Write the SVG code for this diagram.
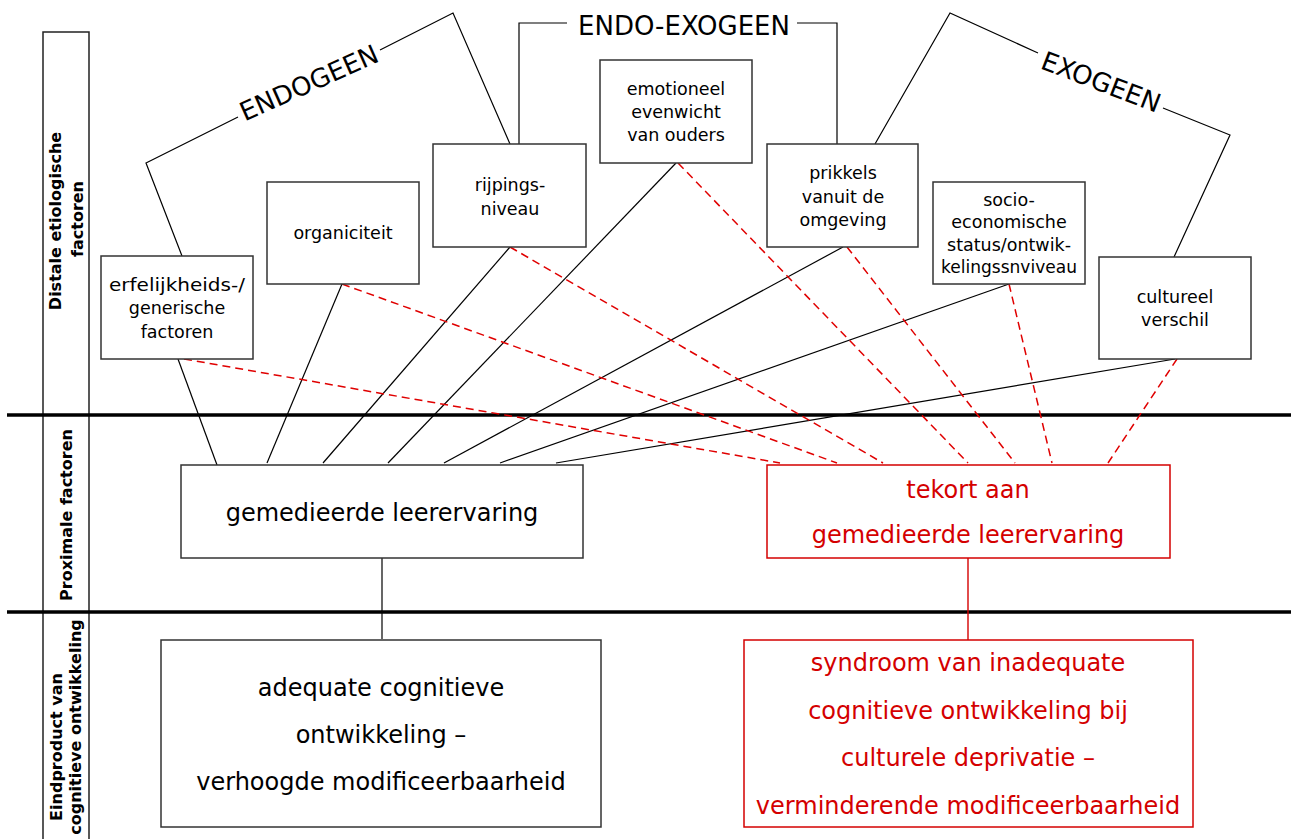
<svg xmlns="http://www.w3.org/2000/svg" width="1291" height="839" viewBox="0 0 1291 839">
<style>
.box{fill:#fff;stroke:#333;stroke-width:1.5}
.rbox{fill:#fff;stroke:#d40000;stroke-width:1.5}
.t{font-family:"DejaVu Sans","Liberation Sans",sans-serif;font-size:17.5px;text-anchor:middle;fill:#000}
.big{font-size:24px}
.hd{font-size:26px}
.red{fill:#d40000}
.side{font-family:"DejaVu Sans","Liberation Sans",sans-serif;font-size:16px;font-weight:bold;text-anchor:middle;fill:#000}
.ln{stroke:#000;stroke-width:1.2;fill:none}
.rln{stroke:#d40000;stroke-width:1.4;fill:none}
.dash{stroke:#e00000;stroke-width:1.5;stroke-dasharray:8 5;fill:none}
.thick{stroke:#000;stroke-width:3.5}
.frame{stroke:#222;stroke-width:1.5;fill:none}
</style>
<rect width="1291" height="839" fill="#fff"/>

<g id="frame">
  <polyline class="frame" points="43,839 43,32 89,32 89,839"/>
  <line class="thick" x1="7" y1="415" x2="1291" y2="415"/>
  <line class="thick" x1="7" y1="612" x2="1291" y2="612"/>
  <text class="side" transform="translate(61,221) rotate(-90)">Distale etiologische</text>
  <text class="side" transform="translate(83,219) rotate(-90)">factoren</text>
  <text class="side" transform="translate(72,515) rotate(-90)">Proximale factoren</text>
  <text class="side" transform="translate(62,747) rotate(-90)">Eindproduct van</text>
  <text class="side" transform="translate(81,727) rotate(-90)">cognitieve ontwikkeling</text>
</g>

<g id="brackets">
  <polyline class="ln" points="182,256 146,163 238,117"/>
  <polyline class="ln" points="380,50 453,13 510,144"/>
  <text class="t hd" transform="translate(309,83) rotate(-24)" y="9">ENDOGEEN</text>
  <polyline class="ln" points="519,144 519,23 567,23"/>
  <polyline class="ln" points="797,23 837,23 837,144"/>
  <text class="t hd" x="684" y="35">ENDO-EXOGEEN</text>
  <polyline class="ln" points="875,144 950,13 1038,53"/>
  <polyline class="ln" points="1163,108 1230,135 1174,257"/>
  <text class="t hd" transform="translate(1101,82) rotate(21)" y="9">EXOGEEN</text>
</g>

<g id="connectors">
  <line class="ln" x1="178" y1="359" x2="217" y2="465"/>
  <line class="ln" x1="342" y1="284" x2="267" y2="463"/>
  <line class="ln" x1="510" y1="247" x2="323" y2="463"/>
  <line class="ln" x1="676" y1="163" x2="388" y2="463"/>
  <line class="ln" x1="843" y1="247" x2="444" y2="463"/>
  <line class="ln" x1="1009" y1="284" x2="500" y2="463"/>
  <line class="ln" x1="1175" y1="359" x2="556" y2="463"/>
  <line class="dash" x1="184" y1="359" x2="780" y2="463"/>
  <line class="dash" x1="342" y1="284" x2="837" y2="463"/>
  <line class="dash" x1="510" y1="247" x2="883" y2="463"/>
  <line class="dash" x1="678" y1="163" x2="968" y2="463"/>
  <line class="dash" x1="847" y1="247" x2="1015" y2="463"/>
  <line class="dash" x1="1009" y1="284" x2="1052" y2="463"/>
  <line class="dash" x1="1177" y1="359" x2="1108" y2="463"/>
  <line class="ln" x1="382" y1="558" x2="382" y2="639"/>
  <line class="rln" x1="968" y1="558" x2="968" y2="640"/>
</g>

<g id="erfelijkheid">
  <rect class="box" x="101" y="256" width="152" height="103"/>
  <text class="t" x="177" y="291" textLength="136" lengthAdjust="spacingAndGlyphs">erfelijkheids-/</text>
  <text class="t" x="177" y="314">generische</text>
  <text class="t" x="177" y="338">factoren</text>
</g>
<g id="organiciteit">
  <rect class="box" x="267" y="182" width="152" height="102"/>
  <text class="t" x="343" y="239">organiciteit</text>
</g>
<g id="rijpingsniveau">
  <rect class="box" x="433" y="144" width="153" height="103"/>
  <text class="t" x="510" y="191">rijpings-</text>
  <text class="t" x="510" y="215">niveau</text>
</g>
<g id="emotioneel">
  <rect class="box" x="600" y="60" width="152" height="103"/>
  <text class="t" x="676" y="95">emotioneel</text>
  <text class="t" x="676" y="118">evenwicht</text>
  <text class="t" x="676" y="141">van ouders</text>
</g>
<g id="prikkels">
  <rect class="box" x="767" y="144" width="151" height="103"/>
  <text class="t" x="843" y="179">prikkels</text>
  <text class="t" x="843" y="203">vanuit de</text>
  <text class="t" x="843" y="226">omgeving</text>
</g>
<g id="socio">
  <rect class="box" x="933" y="182" width="152" height="102"/>
  <text class="t" x="1009" y="206">socio-</text>
  <text class="t" x="1009" y="228">economische</text>
  <text class="t" x="1009" y="251">status/ontwik-</text>
  <text class="t" x="1009" y="273" textLength="136" lengthAdjust="spacingAndGlyphs">kelingssnviveau</text>
</g>
<g id="cultureel">
  <rect class="box" x="1099" y="257" width="152" height="102"/>
  <text class="t" x="1175" y="303">cultureel</text>
  <text class="t" x="1175" y="326">verschil</text>
</g>

<g id="gemedieerd">
  <rect class="box" x="181" y="465" width="402" height="93"/>
  <text class="t big" x="382" y="521">gemedieerde leerervaring</text>
</g>
<g id="tekort">
  <rect class="rbox" x="767" y="465" width="403" height="93"/>
  <text class="t big red" x="968" y="498">tekort aan</text>
  <text class="t big red" x="968" y="543">gemedieerde leerervaring</text>
</g>
<g id="adequaat">
  <rect class="box" x="161" y="640" width="440" height="187"/>
  <text class="t big" x="381" y="696">adequate cognitieve</text>
  <text class="t big" x="381" y="743">ontwikkeling –</text>
  <text class="t big" x="381" y="790">verhoogde modificeerbaarheid</text>
</g>
<g id="syndroom">
  <rect class="rbox" x="744" y="640" width="449" height="187"/>
  <text class="t big red" x="968" y="671">syndroom van inadequate</text>
  <text class="t big red" x="968" y="719">cognitieve ontwikkeling bij</text>
  <text class="t big red" x="968" y="766">culturele deprivatie –</text>
  <text class="t big red" x="968" y="814">verminderende modificeerbaarheid</text>
</g>
</svg>
